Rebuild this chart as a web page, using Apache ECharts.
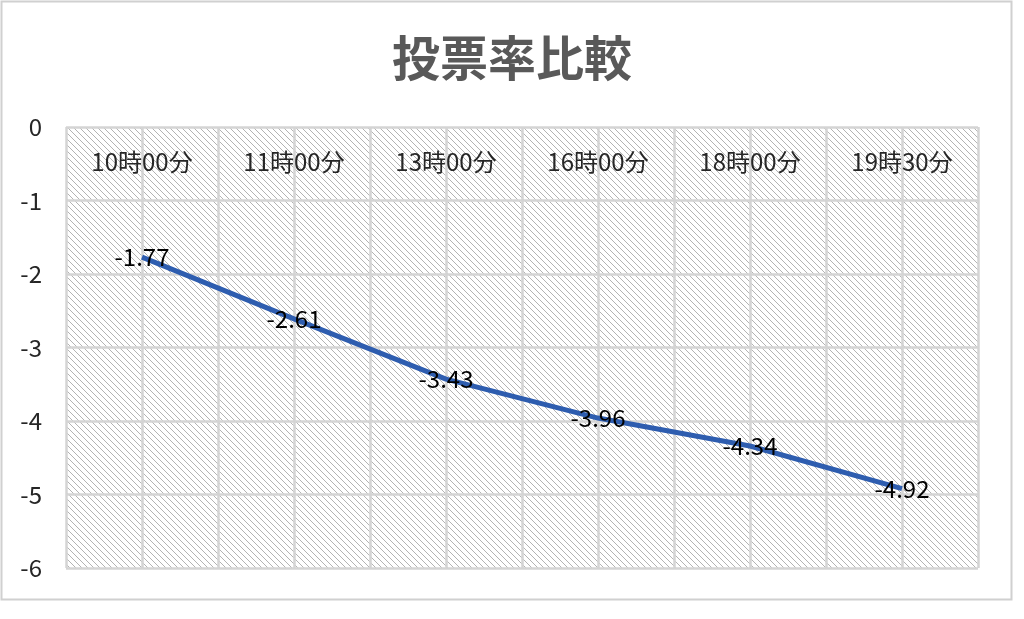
<!DOCTYPE html>
<html><head><meta charset="utf-8">
<script src="https://cdn.jsdelivr.net/npm/echarts@6/dist/echarts.min.js"></script>
<style>html,body{margin:0;padding:0;background:#fff}#c{width:1024px;height:619px}</style>
</head><body><div id="c"></div>
<script>
const titleText = '投票率比較';
const categories = ['10時00分','11時00分','13時00分','16時00分','18時00分','19時30分'];
const values = [-1.77, -2.61, -3.43, -3.96, -4.34, -4.92];
const yTicks = {min: -6, max: 0, interval: 1};

function hatch() {
  const s = 6;
  const cv = document.createElement('canvas');
  cv.width = s; cv.height = s;
  const g = cv.getContext('2d');
  g.fillStyle = '#ffffff'; g.fillRect(0,0,s,s);
  g.strokeStyle = '#b3b3b3'; g.lineWidth = 1;
  g.beginPath();
  g.moveTo(-1,-1); g.lineTo(s+1,s+1);
  g.moveTo(-1,s-1); g.lineTo(1,s+1);
  g.moveTo(s-1,-1); g.lineTo(s+1,1);
  g.stroke();
  return {image: cv, repeat: 'repeat'};
}

const chart = echarts.init(document.getElementById('c'), null, {renderer: 'canvas'});
const font = '"Noto Sans CJK JP", "Noto Sans", sans-serif';
chart.setOption({
  backgroundColor: '#ffffff',
  animation: false,
  title: {text: titleText, left: 'center', top: 29,
    textStyle: {fontFamily: font, fontSize: 48, fontWeight: 'bold', color: '#595959'}},
  graphic: [{type: 'rect', shape: {x: 1.5, y: 1.5, width: 1010, height: 598},
    style: {fill: 'none', stroke: '#d0d0d0', lineWidth: 2}, silent: true, z: -1}],
  grid: {left: 66, top: 127, right: 46, bottom: 51, show: true,
    backgroundColor: hatch(), borderWidth: 0},
  xAxis: [{
    type: 'category', data: categories, position: 'top', boundaryGap: true,
    axisLine: {show: false}, axisTick: {show: false}, splitLine: {show: false},
    axisLabel: {inside: true, margin: 23, fontFamily: font, fontSize: 24, color: '#262626'}
  }, {
    type: 'value', min: 0, max: categories.length * 2, interval: 1, show: true,
    position: 'bottom',
    axisLine: {show: false}, axisTick: {show: false}, axisLabel: {show: false},
    splitLine: {show: true, lineStyle: {color: '#d4d4d4', width: 2.5}}
  }],
  yAxis: {
    type: 'value', min: yTicks.min, max: yTicks.max, interval: yTicks.interval,
    axisLine: {show: false}, axisTick: {show: false},
    axisLabel: {margin: 24, fontFamily: font, fontSize: 24, color: '#262626'},
    splitLine: {show: true, lineStyle: {color: '#d4d4d4', width: 2.5}}
  },
  series: [{
    type: 'line', data: values, xAxisIndex: 0,
    symbol: 'circle', symbolSize: 1, itemStyle: {color: 'rgba(0,0,0,0)'},
    lineStyle: {color: '#2e5daf', width: 5},
    label: {show: true, position: 'inside', fontFamily: font, fontSize: 24, color: '#000',
      formatter: p => p.value.toFixed(2)},
    z: 5
  }]
});
</script></body></html>
